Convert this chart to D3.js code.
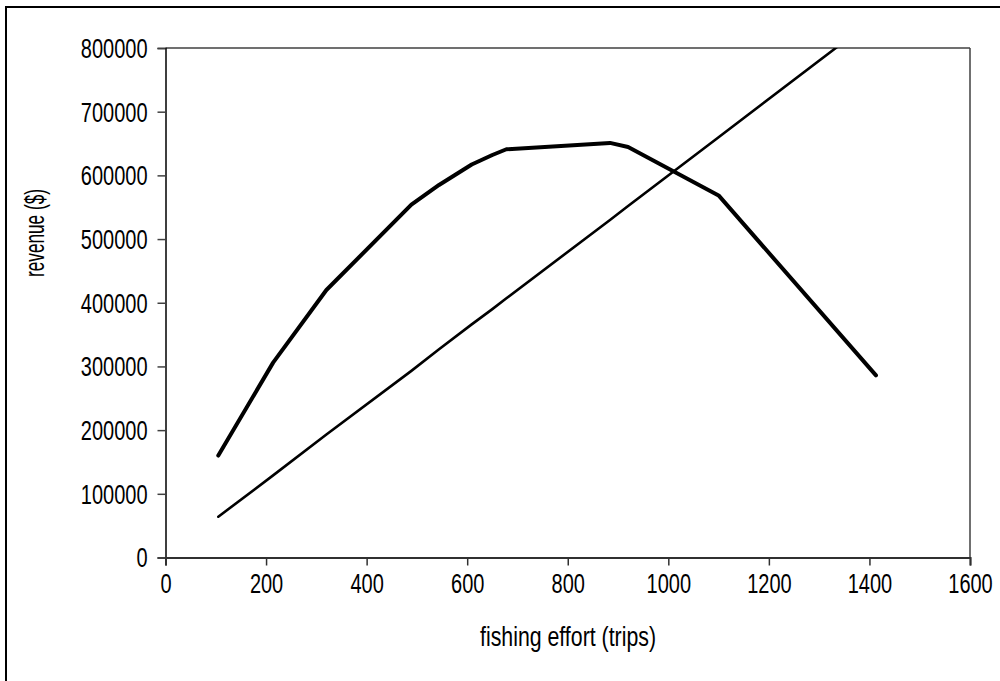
<!DOCTYPE html>
<html>
<head>
<meta charset="utf-8">
<script src="https://cdn.jsdelivr.net/npm/d3@7"></script>
<style>
  html, body { margin: 0; padding: 0; background: #fff; overflow: hidden; }
  svg { display: block; }
  text { font-family: "Liberation Sans", Arial, sans-serif; fill: #000; }
</style>
</head>
<body>
<svg id="chart" width="1000" height="681"></svg>
<script>
// ---- data ----
const effort  = [105, 214, 320, 489, 544, 609, 650, 678, 884, 920, 1100, 1413];
const revenue = [160000, 306000, 420000, 554000, 585000, 617000, 632000, 641000, 651000, 644500, 568500, 286000];
const cost    = [64000, 129000, 193000, 293000, 327000, 366000, 390000, 407000, 530000, 552000, 660000, 848000];
const xTicks  = [0, 200, 400, 600, 800, 1000, 1200, 1400, 1600];
const yTicks  = [0, 100000, 200000, 300000, 400000, 500000, 600000, 700000, 800000];
const xTitle  = "fishing effort (trips)";
const yTitle  = "revenue ($)";

const svg = d3.select("#chart");
const L = 165.5, R = 970, T = 48, B = 557.5;
const x = d3.scaleLinear().domain([0, 1600]).range([L, R]);
const y = d3.scaleLinear().domain([0, 800000]).range([B, T]);

// outer frame
svg.append("rect").attr("x", 6).attr("y", 7).attr("width", 1010).attr("height", 700)
  .attr("fill", "none").attr("stroke", "#000").attr("stroke-width", 2);

// plot frame top / right
svg.append("line").attr("x1", L).attr("x2", R).attr("y1", T).attr("y2", T)
  .attr("stroke", "#404040").attr("stroke-width", 1.5);
svg.append("line").attr("x1", R).attr("x2", R).attr("y1", T).attr("y2", B)
  .attr("stroke", "#404040").attr("stroke-width", 1.5);

const squash = 0.74;
function condense(sel) {
  sel.each(function () {
    const w = this.getComputedTextLength();
    d3.select(this).attr("textLength", w * squash).attr("lengthAdjust", "spacingAndGlyphs");
  });
}

// y axis
const yAxis = svg.append("g").attr("transform", `translate(${L},0)`)
  .call(d3.axisLeft(y).tickValues(yTicks).tickFormat(d3.format("d")).tickSize(8).tickPadding(10));
yAxis.select(".domain").attr("stroke", "#000").attr("stroke-width", 1.5);
yAxis.selectAll(".tick line").attr("stroke", "#404040").attr("stroke-width", 1.5);
yAxis.selectAll(".tick text").attr("font-size", 27).attr("dy", "0.35em")
  .style("font-family", "'Liberation Sans', Arial, sans-serif").call(condense);

// x axis
const xAxis = svg.append("g").attr("transform", `translate(0,${B})`)
  .call(d3.axisBottom(x).tickValues(xTicks).tickFormat(d3.format("d")).tickSize(8).tickPadding(10));
xAxis.select(".domain").attr("stroke", "#303030").attr("stroke-width", 2);
xAxis.selectAll(".tick line").attr("stroke", "#303030").attr("stroke-width", 1.5);
xAxis.selectAll(".tick text").attr("font-size", 27).attr("dy", 0).attr("y", 35)
  .style("font-family", "'Liberation Sans', Arial, sans-serif").call(condense);

// titles
svg.append("text").attr("x", 568).attr("y", 646).attr("text-anchor", "middle")
  .attr("font-size", 27).attr("textLength", 176).attr("lengthAdjust", "spacingAndGlyphs")
  .text(xTitle);
svg.append("text").attr("transform", "translate(44,233) rotate(-90)").attr("text-anchor", "middle")
  .attr("font-size", 27).attr("textLength", 88).attr("lengthAdjust", "spacingAndGlyphs")
  .text(yTitle);

// clip
svg.append("clipPath").attr("id", "plotclip").append("rect")
  .attr("x", L).attr("y", T).attr("width", R - L).attr("height", B - T);

const revData = effort.map((e, i) => [e, revenue[i]]);
const costData = effort.map((e, i) => [e, cost[i]]);
const line = d3.line().x(d => x(d[0])).y(d => y(d[1]));

const g = svg.append("g").attr("clip-path", "url(#plotclip)");
g.append("path").datum(costData).attr("d", line).attr("fill", "none")
  .attr("stroke", "#000").attr("stroke-width", 2.6).attr("stroke-linecap", "round").attr("stroke-linejoin", "round");
g.append("path").datum(revData).attr("d", line).attr("fill", "none")
  .attr("stroke", "#000").attr("stroke-width", 4).attr("stroke-linecap", "round").attr("stroke-linejoin", "round");
</script>
</body>
</html>
